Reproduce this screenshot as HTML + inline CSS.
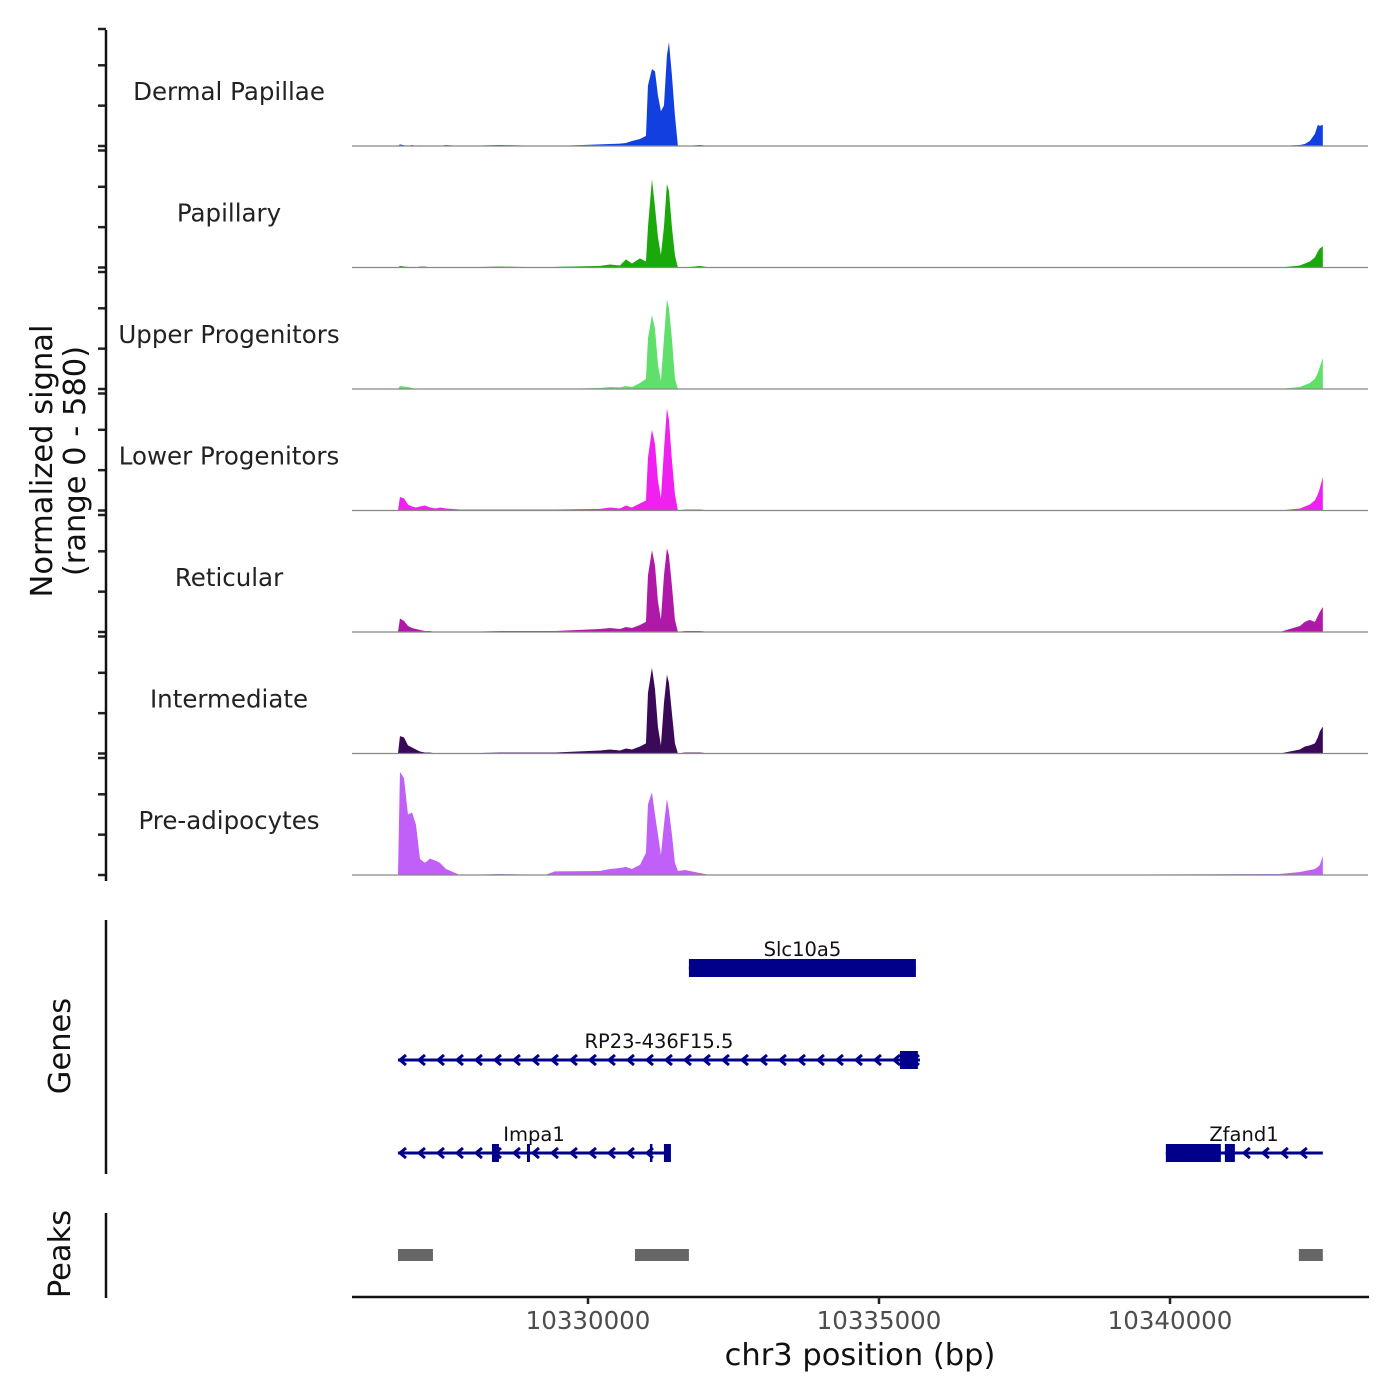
<!DOCTYPE html>
<html><head><meta charset="utf-8"><style>
html,body{margin:0;padding:0;background:#fff;}
svg{display:block;font-family:"DejaVu Sans","Liberation Sans",sans-serif;}
</style></head><body>
<svg id="chart" width="1400" height="1400" viewBox="0 0 1400 1400">
<g id="tracks"></g>
<g id="genes"></g>
<g id="peaks"></g>
<g id="axes"></g>
</svg>
<script>
const positions=[10326735,10326769,10326838,10326907,10326977,10327044,10327113,10327199,10327285,10327388,10327457,10327560,10327800,10328487,10329260,10329432,10330205,10330377,10330549,10330652,10330755,10330893,10330996,10331030,10331099,10331151,10331202,10331253,10331305,10331356,10331391,10331442,10331494,10331545,10331665,10331923,10332095,10332954,10337078,10341887,10342231,10342317,10342403,10342489,10342540,10342575,10342626];
const trackNames=["Dermal Papillae","Papillary","Upper Progenitors","Lower Progenitors","Reticular","Intermediate","Pre-adipocytes"];
const trackColors=["#1240e0","#1aa80a","#5ee06a","#f020f0","#b018a8","#3a0a58","#c060f8"];
const dermalVals=[0,8,4,0,5,0,3,0,0,0,0,5,0,5,0,0,8,10,12,15,25,35,50,300,382,370,250,172,200,450,515,350,150,0,0,5,0,0,0,0,5,10,25,60,105,100,105];
const papillaryVals=[0,8,5,3,0,0,5,5,0,0,0,0,0,5,0,3,8,15,10,40,20,45,30,200,439,300,150,62,200,415,380,200,60,0,0,8,0,0,0,0,10,20,30,50,80,95,105];
const upperVals=[0,15,12,10,5,0,0,0,0,0,0,0,0,0,0,0,5,10,8,15,10,30,50,250,367,300,120,40,250,444,400,250,50,0,0,0,0,0,0,0,10,20,30,50,80,110,153];
const lowerVals=[0,67,60,30,20,15,20,25,15,10,15,10,5,5,5,5,8,15,10,25,15,35,50,260,401,330,150,60,300,506,450,250,80,0,5,5,0,0,0,0,10,20,30,50,80,110,167];
const reticularVals=[0,67,55,30,20,15,10,5,5,0,0,0,0,5,5,5,15,20,15,25,20,35,50,280,406,330,150,60,280,415,380,230,60,0,5,5,0,0,0,0,30,50,60,50,80,100,124];
const intermediateVals=[0,86,80,40,30,20,10,5,5,0,0,0,0,5,5,5,15,20,15,25,20,35,50,300,425,320,130,40,250,391,350,200,50,0,5,5,0,0,0,0,20,35,40,50,80,110,134];
const preadipoVals=[0,511,480,300,310,250,80,60,81,70,60,30,0,5,0,18,20,30,35,40,30,50,110,350,410,300,200,100,250,377,320,200,60,20,25,10,0,0,0,5,15,20,25,30,40,50,95];
const yTicks=[0,200,400,580];
const xTicks=[10330000,10335000,10340000];
const geneNames=["Slc10a5","RP23-436F15.5","Impa1","Zfand1"];
const geneStarts=[10331734,10326735,10326735,10339929];
const geneEnds=[10335634,10335703,10331408,10342626];
const geneRows=[0,1,2,2];
const geneExons=[[[10331734,10335634]],[[10335359,10335668]],[[10328350,10328470],[10328951,10329003],[10331064,10331099],[10331305,10331425]],[[10339929,10340874],[10340943,10341115]]];
const peakStarts=[10326735,10330807,10342214];
const peakEnds=[10327336,10331734,10342626];

const NS="http://www.w3.org/2000/svg";
function mk(tag,attrs,parent){const e=document.createElementNS(NS,tag);for(const k in attrs)e.setAttribute(k,attrs[k]);parent.appendChild(e);return e;}
const xScale=bp=>588+(bp-10330000)*(291/5000);
const yMax=580, trackH=117;
const baseY=i=>146+i*121.5;
const yScale=(v,i)=>baseY(i)-v/yMax*trackH;
const allVals=[dermalVals,papillaryVals,upperVals,lowerVals,reticularVals,intermediateVals,preadipoVals];
const tracks=document.getElementById('tracks');
const axes=document.getElementById('axes');
allVals.forEach((vals,i)=>{
  let d=`M${xScale(positions[0])},${baseY(i)}`;
  positions.forEach((p,j)=>{d+=` L${xScale(p).toFixed(2)},${yScale(vals[j],i).toFixed(2)}`;});
  d+=` L${xScale(positions[positions.length-1])},${baseY(i)} Z`;
  const a=mk('path',{d:d,fill:trackColors[i]},tracks);
  
  
  const bl=mk('line',{x1:352,x2:1368,y1:baseY(i),y2:baseY(i),stroke:'#888','stroke-width':1.2},tracks);
  
  
  const t=mk('text',{x:229,y:baseY(i)-46,'text-anchor':'middle','font-size':24.5,fill:'#222'},tracks);
  t.textContent=trackNames[i];
  
  
  yTicks.forEach(v=>{
    const tk=mk('line',{x1:98,x2:106,y1:yScale(v,i),y2:yScale(v,i),stroke:'#222','stroke-width':2.5},axes);
    
    
  });
});
mk('line',{x1:106,x2:106,y1:30,y2:881,stroke:'#111','stroke-width':2.5,},axes);
const yt=mk('text',{transform:'translate(52,461) rotate(-90)','text-anchor':'middle','font-size':30.5,fill:'#111'},axes);


yt.innerHTML='<tspan x="0" dy="0">Normalized signal</tspan><tspan x="0" dy="33">(range 0 - 580)</tspan>';

const genes=document.getElementById('genes');
const C='#00008b';
const rowY=[968,1060,1153];
geneNames.forEach((n,i)=>{
  const y=rowY[geneRows[i]];
  const x1=xScale(geneStarts[i]),x2=xScale(geneEnds[i]);
  const ln=mk('line',{x1:x1,x2:x2,y1:y,y2:y,stroke:C,'stroke-width':3},genes);
  
  
  for(let x=x1+2;x<x2-4;x+=19){
    const ar=mk('path',{d:`M${x+6},${y-5} L${x},${y} L${x+6},${y+5}`,fill:'none',stroke:C,'stroke-width':3},genes);
    
    
  }
  geneExons[i].forEach(ex=>{
    const ea=xScale(ex[0]),eb=xScale(ex[1]);
    const r=mk('rect',{x:ea,y:y-9,width:Math.max(2.5,eb-ea),height:18,fill:C},genes);
    
    
  });
  const lbl=mk('text',{x:(x1+x2)/2,y:y-12,'text-anchor':'middle','font-size':19.5,fill:'#111'},genes);
  if(n==='Zfand1'){lbl.setAttribute('x',1244);}
  if(n==='Impa1'){lbl.setAttribute('x',534);}
  lbl.textContent=n;
  
  
});
mk('line',{x1:106,x2:106,y1:920,y2:1174,stroke:'#111','stroke-width':2.5,},axes);
const gt=mk('text',{transform:'translate(70,1046) rotate(-90)','text-anchor':'middle','font-size':30.5,fill:'#111'},axes);
gt.textContent='Genes';



const peaks=document.getElementById('peaks');
peakStarts.forEach((s,i)=>{
  const r=mk('rect',{x:xScale(s),y:1249,width:xScale(peakEnds[i])-xScale(s),height:12,fill:'#666'},peaks);
  
  
});
mk('line',{x1:106,x2:106,y1:1213,y2:1298,stroke:'#111','stroke-width':2.5,},axes);
const pt=mk('text',{transform:'translate(70,1254) rotate(-90)','text-anchor':'middle','font-size':30.5,fill:'#111'},axes);
pt.textContent='Peaks';



mk('line',{x1:352,x2:1369,y1:1297,y2:1297,stroke:'#111','stroke-width':2.5,},axes);
xTicks.forEach(v=>{
  const tk=mk('line',{x1:xScale(v),x2:xScale(v),y1:1297,y2:1304,stroke:'#222','stroke-width':2.5},axes);
  
  
  const tl=mk('text',{x:xScale(v),y:1329,'text-anchor':'middle','font-size':24.5,fill:'#4d4d4d'},axes);
  tl.textContent=v;
  
  
});
const xt=mk('text',{x:860,y:1365,'text-anchor':'middle','font-size':30.5,fill:'#111'},axes);
xt.textContent='chr3 position (bp)';


</script>
</body></html>
